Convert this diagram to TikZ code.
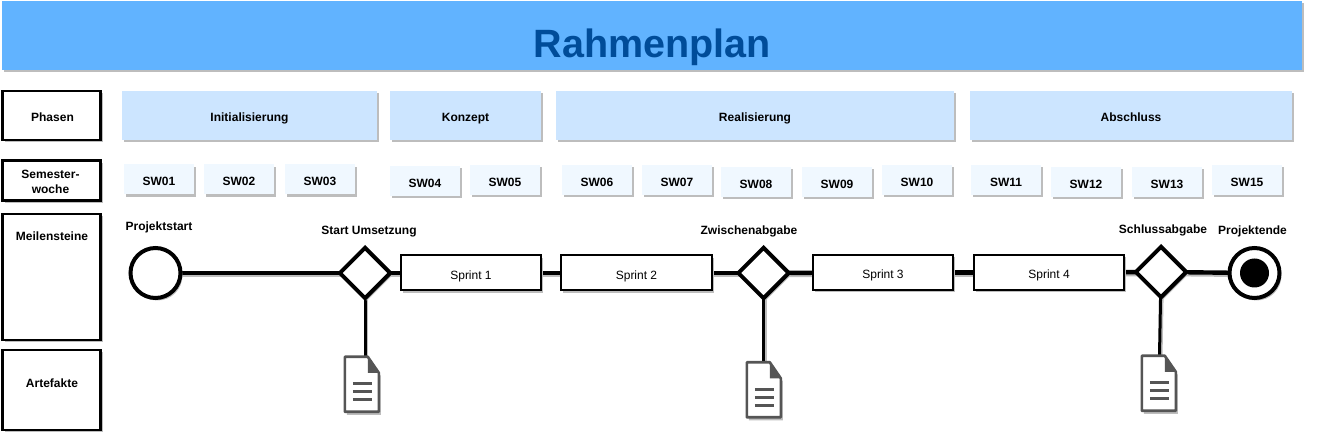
\documentclass[tikz,border=0pt]{standalone}
\usepackage{fontspec}
\setmainfont{Liberation Sans}
\usetikzlibrary{shapes.geometric,shadows,calc,backgrounds}
\definecolor{titlefill}{HTML}{61B3FF}
\definecolor{titletext}{HTML}{004C99}
\definecolor{phasefill}{HTML}{CCE5FF}
\definecolor{swfill}{HTML}{F0F8FF}
\definecolor{shadowc}{HTML}{BDBDBD}
\definecolor{docc}{HTML}{555555}
\tikzset{
  x=1pt,y=-1pt,
  shade2/.style={drop shadow={shadow xshift=2pt,shadow yshift=-2.5pt,fill=shadowc,opacity=1}},
  flat/.style={rectangle,inner sep=0pt,outer sep=0pt,shade2,font=\fontsize{12}{15}\selectfont\bfseries,align=center,text height=13pt,text depth=0pt},
  titlebox/.style={flat,fill=titlefill,minimum width=1300pt,minimum height=69pt},
  rowbox/.style={flat,draw=black,line width=2.6pt,fill=white,minimum width=98pt},
  phasebox/.style={flat,fill=phasefill,minimum height=49pt},
  swbox/.style={flat,fill=swfill,minimum width=70pt,minimum height=30pt},
  sprintbox/.style={rectangle,draw=black,line width=2pt,fill=white,inner sep=0pt,shade2,minimum height=35pt,font=\fontsize{12}{14}\selectfont,text height=13pt,text depth=0pt},
  gate/.style={diamond,draw=black,line width=4pt,fill=white,aspect=1,inner sep=0pt,minimum width=52pt,minimum height=52pt,shade2},
  startev/.style={circle,draw=black,line width=4pt,fill=white,inner sep=0pt,minimum size=50pt,shade2},
  endcore/.style={circle,fill=black,inner sep=0pt,minimum size=29pt},
  txt/.style={font=\fontsize{12}{14.5}\selectfont\bfseries,inner sep=0pt,align=center},
  lab/.style={txt,text height=11pt,text depth=3pt},
  docanchor/.style={rectangle,inner sep=0pt,minimum width=34pt,minimum height=55pt},
  connshadow/.style={draw=shadowc,transform canvas={shift={(1.5pt,-2pt)}}},
  conn/.style={draw=black,line width=4.4pt},
  stem/.style={draw=black,line width=3pt},
}
\newcommand{\docicon}[3]{%
  \node[docanchor] (#1) at (#2,#3) {};
  \begin{scope}[shift={(#1.north west)}]
    \fill[shadowc] (2,3) -- (25,3) -- (36,19) -- (36,58) -- (2,58) -- cycle;
    \draw[docc,line width=2.6pt,fill=white,line join=round] (0,0) -- (23,0) -- (34,16) -- (34,55) -- (0,55) -- cycle;
    \fill[docc] (23,0) -- (34,16) -- (23,16) -- cycle;
    \foreach \yy in {27,35,43}{\draw[docc,line width=3pt] (8,\yy) -- (27,\yy);}
  \end{scope}}
\begin{document}
\begin{tikzpicture}
\useasboundingbox (0,0) rectangle (1318,435);
% title
\node[titlebox] (title) at (652,35.5) {};
\node[font=\fontsize{39.5}{44}\selectfont\bfseries,text=titletext,inner sep=0pt] (titletxt) at (652.5,47) {Rahmenplan};
% left rows
\node[rowbox,minimum height=49pt] (rphasen) at (51.5,115.5) {};
\node[lab] (tphasen) at (52.5,118) {Phasen};
\node[rowbox,minimum height=40pt] (rsw) at (51.5,180.5) {};
\node[txt] (tsw) at (50.5,182) {Semester-\\woche};
\node[rowbox,minimum height=126pt] (rmeil) at (51.5,277) {};
\node[lab] (tmeil) at (52,237) {Meilensteine};
\node[rowbox,minimum height=80pt] (rart) at (51.5,390) {};
\node[lab] (tart) at (52,384) {Artefakte};
% phases
\node[phasebox,minimum width=255pt] (p1) at (249.5,115.5) {Initialisierung};
\node[phasebox,minimum width=151pt] (p2) at (465.5,115.5) {Konzept};
\node[phasebox,minimum width=398pt] (p3) at (755,115.5) {Realisierung};
\node[phasebox,minimum width=322pt] (p4) at (1131,115.5) {Abschluss};
% weeks
\node[swbox] (s1) at (159,179.5) {SW01};
\node[swbox] (s2) at (239,179.5) {SW02};
\node[swbox] (s3) at (320,179.5) {SW03};
\node[swbox] (s4) at (425,181) {SW04};
\node[swbox] (s5) at (505,180) {SW05};
\node[swbox] (s6) at (597,180) {SW06};
\node[swbox] (s7) at (677,180) {SW07};
\node[swbox] (s8) at (756,182) {SW08};
\node[swbox] (s9) at (837,182) {SW09};
\node[swbox] (s10) at (917,180) {SW10};
\node[swbox] (s11) at (1006,180) {SW11};
\node[swbox] (s12) at (1086,182) {SW12};
\node[swbox] (s13) at (1167,182) {SW13};
\node[swbox] (s15) at (1247,180) {SW15};
% flow
\node[startev] (start) at (155.5,273) {};
\node[gate] (g1) at (365,273) {};
\node[gate] (g2) at (763.5,273) {};
\node[gate] (g3) at (1161,272) {};
\node[sprintbox,minimum width=140pt] (sp1) at (471,273) {Sprint 1};
\node[sprintbox,minimum width=151pt] (sp2) at (636.5,273) {Sprint 2};
\node[sprintbox,minimum width=140pt] (sp3) at (883,272.5) {Sprint 3};
\node[sprintbox,minimum width=150pt] (sp4) at (1049,272.5) {Sprint 4};
\node[startev] (end) at (1254.5,273) {};
\node[endcore] (endc) at (end.center) {};
% artefacts
\docicon{d1}{362}{384.5}
\docicon{d2}{764}{390}
\docicon{d3}{1159}{383.5}
% connector shadows, then connectors, all behind the nodes
\begin{pgfonlayer}{background}
\draw[conn,connshadow] (start.center) -- (g1.center);
\draw[conn,connshadow] (g1.center) -- (sp1.center);
\draw[conn,connshadow] (sp1.center) -- (sp2.center);
\draw[conn,connshadow] (sp2.center) -- (g2.center);
\draw[conn,connshadow] (g2.center) -- (sp3.center);
\draw[conn,connshadow] (sp3.center) -- (sp4.center);
\draw[conn,connshadow] (sp4.center) -- (g3.center);
\draw[conn,connshadow] (g3.center) -- (end.center);
\draw[stem,connshadow] (g1.center) -- (d1.center -| g1.center);
\draw[stem,connshadow] (g2.center) -- (d2.center -| g2.center);
\draw[stem,connshadow] (g3.center) -- (d3.center);
\draw[conn] (start.center) -- (g1.center);
\draw[conn] (g1.center) -- (sp1.center);
\draw[conn] (sp1.center) -- (sp2.center);
\draw[conn] (sp2.center) -- (g2.center);
\draw[conn] (g2.center) -- (sp3.center);
\draw[conn] (sp3.center) -- (sp4.center);
\draw[conn] (sp4.center) -- (g3.center);
\draw[conn] (g3.center) -- (end.center);
\draw[stem] (g1.center) -- (d1.center -| g1.center);
\draw[stem] (g2.center) -- (d2.center -| g2.center);
\draw[stem] (g3.center) -- (d3.center);
\end{pgfonlayer}
% milestones
\node[lab] (lstart) at (159,227) {Projektstart};
\node[lab] (lg1) at (369,231) {Start Umsetzung};
\node[lab] (lg2) at (749,231) {Zwischenabgabe};
\node[lab] (lg3) at (1163,230) {Schlussabgabe};
\node[lab] (lend) at (1252.5,231) {Projektende};
\end{tikzpicture}
\end{document}
